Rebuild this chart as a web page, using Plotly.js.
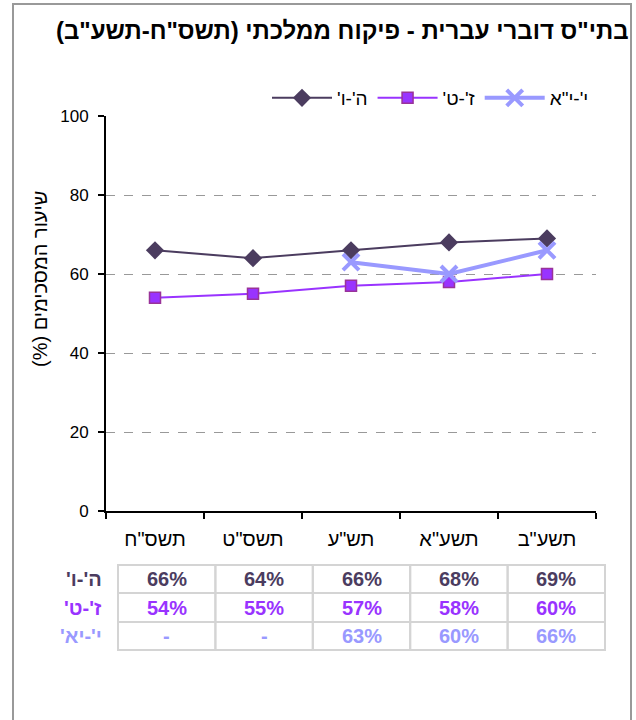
<!DOCTYPE html>
<html>
<head>
<meta charset="utf-8">
<script src="https://cdn.plot.ly/plotly-3.0.1.min.js"></script>
<style>
  html, body { margin: 0; padding: 0; background: #ffffff; overflow: hidden; }
  #wrap { position: relative; width: 636px; height: 720px; }
  #chart { width: 636px; height: 720px; }
  #frame { position: absolute; left: 12px; top: 3px; width: 616px; height: 760px;
           border: 2px solid #999999; border-bottom: none; pointer-events: none; }
</style>
</head>
<body>
<div id="wrap">
<div id="chart"></div>
<div id="frame"></div>
</div>
<script>
// ---- data ----
const RLM = '\u200F';
const years = ['תשס"ח', 'תשס"ט', 'תש"ע', 'תשע"א', 'תשע"ב'];
const seriesNames = ["ה'-ו'", "ז'-ט'", 'י\'-י"א'];
const rowLabels = ["ה'-ו'", "ז'-ט'", "י'-יא'"];
const grades5to6 = [66, 64, 66, 68, 69];
const grades7to9 = [54, 55, 57, 58, 60];
const grades10to11 = [null, null, 63, 60, 66];
const chartTitle = 'בתי"ס דוברי עברית - פיקוח ממלכתי (תשס"ח-תשע"ב)';
const yTitle = 'שיעור המסכימים (%)';
const yTicks = [0, 20, 40, 60, 80, 100];

// ---- style ----
const FONT = 'Liberation Sans, Arial, sans-serif';
const colors = ['#4B3C5F', '#9933FF', '#9999FF'];

// plot-area pixel geometry
const L = 106, R = 596, T = 116, B = 511;
const PW = R - L, PH = B - T;
const px = p => (p - L) / PW;
const py = p => (B - p) / PH;

const traces = [
  {
    x: years, y: grades5to6, name: seriesNames[0] + RLM, type: 'scatter', mode: 'lines+markers',
    line: { color: colors[0], width: 2 },
    marker: { symbol: 'diamond', size: 14, color: colors[0], line: { width: 0 } }
  },
  {
    x: years, y: grades7to9, name: seriesNames[1] + RLM, type: 'scatter', mode: 'lines+markers',
    line: { color: colors[1], width: 2 },
    marker: { symbol: 'square', size: 11, color: colors[1], line: { width: 1.5, color: '#993399' } }
  },
  {
    x: years, y: grades10to11, name: seriesNames[2], type: 'scatter', mode: 'lines+markers',
    line: { color: colors[2], width: 4 },
    marker: { symbol: 'x-thin', size: 16, color: colors[2], line: { width: 4, color: colors[2] } }
  }
];

const tableRows = [grades5to6, grades7to9, grades10to11];
const shapes = [];
const annotations = [];

// chart title
annotations.push({ xref: 'paper', yref: 'paper', x: px(631), y: py(31),
  text: '<b>' + chartTitle + RLM + '</b>', showarrow: false, xanchor: 'right', yanchor: 'middle',
  font: { family: FONT, size: 24, color: '#000' } });

// y axis title
annotations.push({ xref: 'paper', yref: 'paper', x: px(40), y: py(279),
  text: yTitle + RLM, textangle: -90, showarrow: false,
  font: { family: FONT, size: 20, color: '#000' }, xanchor: 'center', yanchor: 'middle' });

// data table
const colL = 118, colW = 97.4;
const rowTops = [565, 593, 622, 650];
tableRows.forEach((vals, r) => {
  const yc = (rowTops[r] + rowTops[r + 1]) / 2;
  annotations.push({ xref: 'paper', yref: 'paper', x: px(104), y: py(yc),
    text: '<b>' + rowLabels[r] + RLM + '</b>', showarrow: false, xanchor: 'right', yanchor: 'middle',
    font: { family: FONT, size: 20, color: colors[r] } });
  vals.forEach((v, c) => {
    const x0 = colL + c * colW;
    shapes.push({ type: 'rect', xref: 'paper', yref: 'paper',
      x0: px(x0), x1: px(x0 + colW), y0: py(rowTops[r + 1]), y1: py(rowTops[r]),
      line: { color: '#D4D4D4', width: 2 }, fillcolor: 'rgba(0,0,0,0)' });
    annotations.push({ xref: 'paper', yref: 'paper', x: px(x0 + colW / 2), y: py(yc),
      text: '<b>' + (v === null ? '-' : v + '%') + '</b>', showarrow: false,
      xanchor: 'center', yanchor: 'middle',
      font: { family: FONT, size: 20, color: colors[r] } });
  });
});

const layout = {
  width: 636, height: 720,
  margin: { l: L, r: 636 - R, t: T, b: 720 - B, pad: 0 },
  paper_bgcolor: '#ffffff', plot_bgcolor: '#ffffff',
  font: { family: FONT, size: 16, color: '#000' },
  showlegend: true,
  legend: { orientation: 'h', x: px(594), xanchor: 'right', y: py(98), yanchor: 'middle',
    font: { family: FONT, size: 19, color: '#000' }, itemwidth: 60, tracegroupgap: 0,
    bgcolor: 'rgba(0,0,0,0)', traceorder: 'normal' },
  xaxis: {
    type: 'category', categoryorder: 'array', categoryarray: years,
    range: [-0.5, years.length - 0.5], tickson: 'boundaries',
    showline: true, linecolor: '#000', linewidth: 2,
    ticks: 'outside', ticklen: 6, tickwidth: 2, tickcolor: '#000',
    showgrid: false, zeroline: false, fixedrange: true,
    tickfont: { family: FONT, size: 20, color: '#000' }, ticklabelstandoff: 9
  },
  yaxis: {
    range: [0, 100], tickvals: yTicks, ticktext: yTicks.map(String),
    showline: true, linecolor: '#000', linewidth: 2,
    ticks: 'outside', ticklen: 6, tickwidth: 2, tickcolor: '#000',
    showgrid: true, gridcolor: '#999999', gridwidth: 1, griddash: 'dash',
    zeroline: false, fixedrange: true,
    tickfont: { family: FONT, size: 17, color: '#000' }, ticklabelstandoff: 6
  },
  shapes: shapes,
  annotations: annotations
};

Plotly.newPlot('chart', traces, layout, { displayModeBar: false, staticPlot: true });
</script>
</body>
</html>
